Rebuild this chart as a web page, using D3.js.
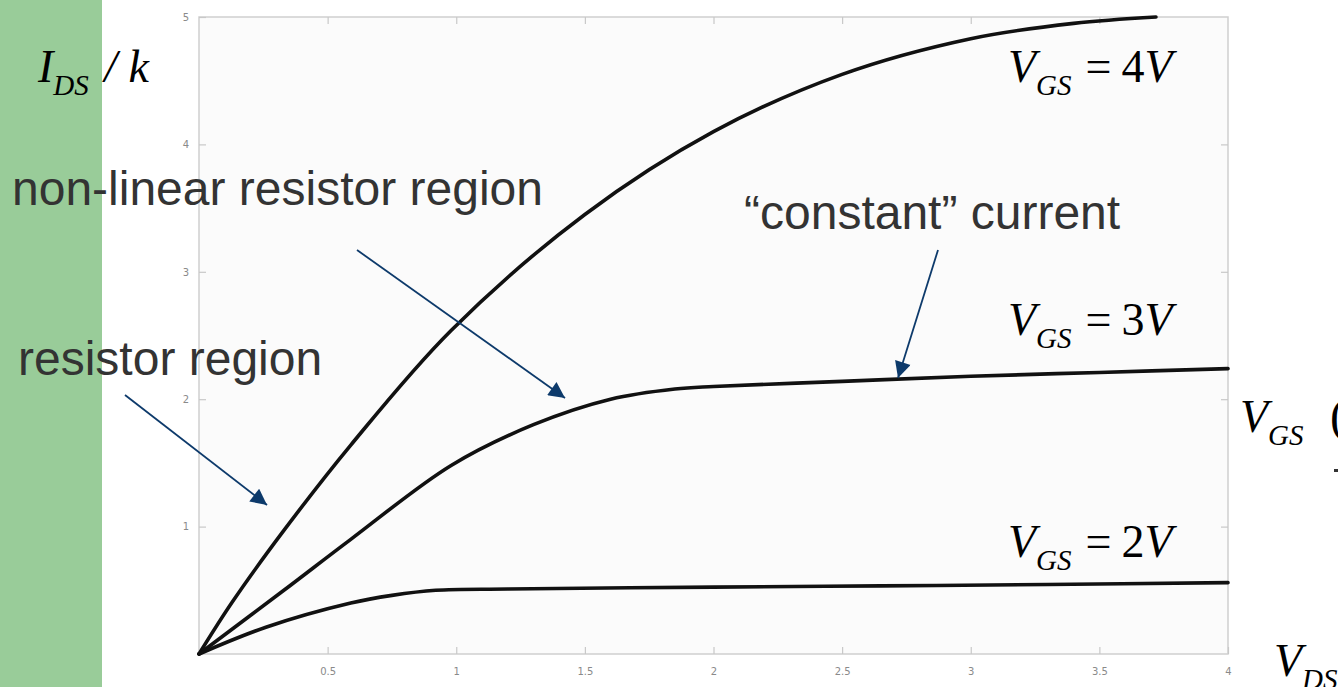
<!DOCTYPE html>
<html>
<head>
<meta charset="utf-8">
<script src="https://cdn.jsdelivr.net/npm/d3@7"></script>
<style>
  html, body { margin: 0; padding: 0; background: #fff; overflow: hidden; }
  svg { display: block; }
</style>
</head>
<body>
<div id="chart"></div>
<script>
// tick values
const xTicks = [0.5, 1, 1.5, 2, 2.5, 3, 3.5, 4];
const yTicks = [1, 2, 3, 4, 5];

// I_DS/k curves
const vds4 = [0, 0.13, 0.33, 0.59, 0.98, 1.5, 2.0, 2.5, 3.0, 3.4, 3.72];
const ids4 = [0, 0.41, 0.97, 1.64, 2.54, 3.45, 4.1, 4.55, 4.83, 4.95, 5.0];

const vds3 = [0, 0.33, 0.59, 0.98, 1.3, 1.6, 1.85, 2.0, 2.5, 3.0, 3.5, 4.0];
const ids3 = [0, 0.5, 0.9, 1.48, 1.8, 2.0, 2.08, 2.1, 2.14, 2.18, 2.21, 2.24];

const vds2 = [0, 0.26, 0.59, 0.75, 0.92, 1.2, 2.0, 2.65, 3.3, 4.0];
const ids2 = [0, 0.21, 0.4, 0.46, 0.5, 0.51, 0.525, 0.535, 0.545, 0.56];

const curveLabels = ["4", "3", "2"];

const width = 1338;
const height = 687;
const margin = { top: 17, right: 110, bottom: 33, left: 199 };

const svg = d3.select("#chart")
  .append("svg")
  .attr("width", width)
  .attr("height", height);

// green strip on the left
svg.append("rect")
  .attr("x", 0).attr("y", 0)
  .attr("width", 102).attr("height", height)
  .attr("fill", "#99cc99");

const x = d3.scaleLinear()
  .domain([0, 4])
  .range([margin.left, width - margin.right]);

const y = d3.scaleLinear()
  .domain([0, 5])
  .range([height - margin.bottom, margin.top]);

// plot background + frame
svg.append("rect")
  .attr("x", x(0)).attr("y", y(5))
  .attr("width", x(4) - x(0)).attr("height", y(0) - y(5))
  .attr("fill", "#fbfbfb")
  .attr("stroke", "#cfcfcf")
  .attr("stroke-width", 1.5);

const axisStyle = g => {
  g.select(".domain").remove();
  g.selectAll(".tick line").attr("stroke", "#c8c8c8").attr("stroke-width", 1.2);
  g.selectAll(".tick text")
    .attr("fill", "#8a8a8a")
    .style("font-family", "DejaVu Sans, sans-serif")
    .style("font-size", "10px");
};

const fmt = d3.format("~g");

svg.append("g")
  .attr("transform", `translate(0,${y(0)})`)
  .call(d3.axisBottom(x).tickValues(xTicks).tickSize(-7).tickPadding(14).tickFormat(fmt))
  .call(axisStyle);

svg.append("g")
  .attr("transform", `translate(0,${y(5)})`)
  .call(d3.axisTop(x).tickValues(xTicks.slice(0, -1)).tickSize(-7).tickFormat(""))
  .call(axisStyle);

svg.append("g")
  .attr("transform", `translate(${x(0)},0)`)
  .call(d3.axisLeft(y).tickValues(yTicks).tickSize(-7).tickPadding(10).tickFormat(fmt))
  .call(axisStyle);

svg.append("g")
  .attr("transform", `translate(${x(4)},0)`)
  .call(d3.axisRight(y).tickValues(yTicks.slice(0, -1)).tickSize(-7).tickFormat(""))
  .call(axisStyle);

// curves
const line = d3.line()
  .x(d => x(d[0]))
  .y(d => y(d[1]))
  .curve(d3.curveCatmullRom.alpha(0.5));

const series = [
  d3.zip(vds4, ids4),
  d3.zip(vds3, ids3),
  d3.zip(vds2, ids2)
];

svg.selectAll("path.curve")
  .data(series)
  .join("path")
  .attr("class", "curve")
  .attr("fill", "none")
  .attr("stroke", "#111")
  .attr("stroke-width", 3.6)
  .attr("stroke-linecap", "round")
  .attr("d", line);

// math labels (Times-like italic)
const serif = "Liberation Serif, Times New Roman, serif";

function mathLabel(px, py, sub, tail) {
  const t = svg.append("text")
    .attr("x", px).attr("y", py)
    .style("font-family", serif)
    .style("font-size", "46px")
    .attr("fill", "#000");
  t.append("tspan").style("font-style", "italic").text(sub[0]);
  t.append("tspan").style("font-style", "italic").style("font-size", "29px")
    .attr("dy", 13).text(sub[1]);
  if (tail) {
    tail.forEach((p, i) => {
      const s = t.append("tspan")
        .style("font-style", p.italic ? "italic" : "normal")
        .attr("dx", p.dx || 0)
        .text(p.text);
      if (i === 0) s.attr("dy", -13);
    });
  }
  return t;
}

mathLabel(38, 82, ["I", "DS"], [{ text: " / ", italic: true, dx: 4 }, { text: "k", italic: true }]);

const labelY = [82, 335, 557];
curveLabels.forEach((v, i) => {
  mathLabel(1008, labelY[i], ["V", "GS"], [
    { text: "=", italic: false, dx: 14 },
    { text: v, italic: false, dx: 10 },
    { text: "V", italic: true }
  ]);
});

mathLabel(1240, 432, ["V", "GS"]);
mathLabel(1274, 676, ["V", "DS"]);

svg.append("text")
  .attr("x", 1330).attr("y", 432)
  .style("font-family", serif).style("font-size", "48px")
  .text("(");
svg.append("rect")
  .attr("x", 1334).attr("y", 469).attr("width", 4).attr("height", 3)
  .attr("fill", "#333");

// annotations
const sans = "Liberation Sans, Arial, sans-serif";
const notes = [
  { text: "non-linear resistor region", x: 12, y: 205 },
  { text: "resistor region", x: 18, y: 375 },
  { text: "\u201Cconstant\u201D current", x: 744, y: 229 }
];
svg.selectAll("text.note")
  .data(notes)
  .join("text")
  .attr("class", "note")
  .attr("x", d => d.x).attr("y", d => d.y)
  .attr("fill", "#333")
  .style("font-family", sans)
  .style("font-size", "48px")
  .text(d => d.text);

svg.append("defs").append("marker")
  .attr("id", "head")
  .attr("viewBox", "0 0 10 10")
  .attr("refX", 10).attr("refY", 5)
  .attr("markerWidth", 10).attr("markerHeight", 9)
  .attr("markerUnits", "strokeWidth")
  .attr("orient", "auto")
  .append("path")
  .attr("d", "M0,0 L10,5 L0,10 z")
  .attr("fill", "#0d3a6b");

const arrows = [
  [357, 250, 565, 398],
  [125, 395, 267, 505],
  [938, 250, 898, 378]
];
svg.selectAll("line.arrow")
  .data(arrows)
  .join("line")
  .attr("class", "arrow")
  .attr("x1", d => d[0]).attr("y1", d => d[1])
  .attr("x2", d => d[2]).attr("y2", d => d[3])
  .attr("stroke", "#0d3a6b")
  .attr("stroke-width", 1.8)
  .attr("marker-end", "url(#head)");
</script>
</body>
</html>
